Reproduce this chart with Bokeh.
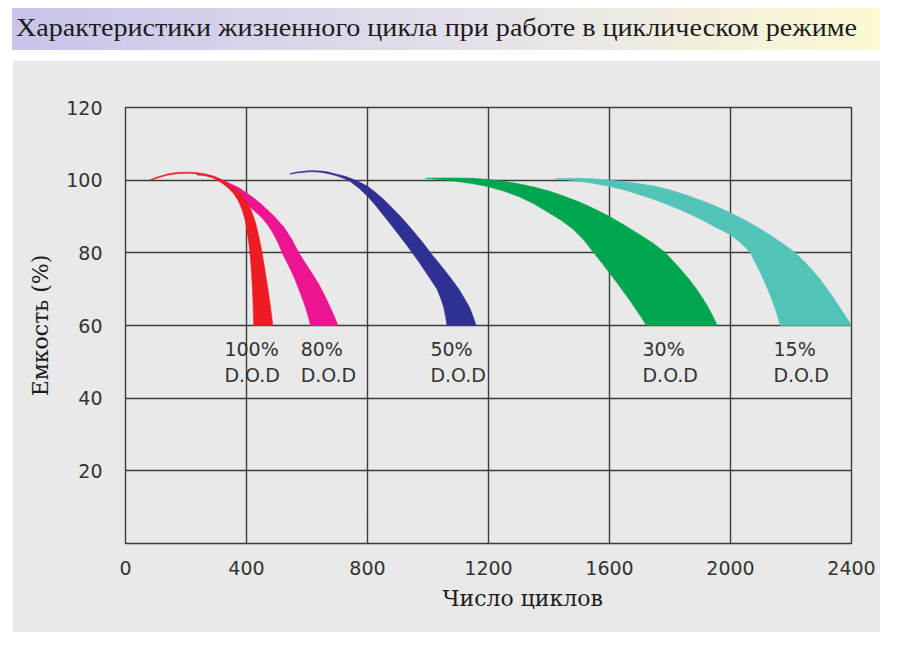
from bokeh.plotting import figure
from bokeh.models import ColumnDataSource, Div, FixedTicker, Title
from bokeh.layouts import column
from bokeh.embed import file_html
from bokeh.resources import INLINE
from bokeh.core.properties import value

title_text = "Характеристики жизненного цикла при работе в циклическом режиме"
x_title = "Число циклов"
y_title = "Емкость (%)"

cycle_ticks = [0, 400, 800, 1200, 1600, 2000, 2400]
capacity_ticks = [20, 40, 60, 80, 100, 120]

dod_labels = ["100%\nD.O.D", "80%\nD.O.D", "50%\nD.O.D", "30%\nD.O.D", "15%\nD.O.D"]
label_cycles = [327, 579, 1008, 1709, 2142]
label_capacity = [50, 50, 50, 50, 50]

# each band: upper (outer) edge and lower (inner) edge
red_upper_x = [83, 110, 140, 170, 200, 230, 260, 290, 320, 345, 368, 388, 405, 418, 430, 440,
               450, 460, 470, 479, 487]
red_upper_y = [100.2, 101.0, 101.7, 102.1, 102.2, 102.1, 101.8, 101.1, 100.0, 98.6, 97.3, 95.6,
               93.5, 91.2, 88.2, 84.8, 80.8, 75.8, 70.5, 65.3, 60.0]
red_lower_x = [83, 110, 140, 170, 200, 230, 260, 290, 315, 338, 356, 372, 385, 395, 402, 408,
               413, 417, 420, 422, 424]
red_lower_y = [100.0, 100.7, 101.4, 101.8, 101.9, 101.8, 101.4, 100.6, 99.4, 98.0, 96.5, 94.5,
               92.0, 89.2, 86.0, 82.5, 78.5, 74.0, 69.5, 65.0, 60.0]

pink_upper_x = [237, 265, 290, 318, 347, 375, 400, 425, 450, 475, 500, 525, 550, 573, 596, 618,
                640, 660, 675, 690, 702]
pink_upper_y = [101.7, 101.5, 101.1, 100.2, 99.0, 97.9, 96.5, 95.0, 93.3, 91.4, 89.3, 86.9, 83.7,
                80.0, 77.0, 74.2, 71.2, 68.0, 65.3, 62.6, 60.0]
pink_lower_x = [237, 265, 290, 312, 330, 348, 365, 382, 400, 418, 435, 452, 470, 487, 503, 518,
                533, 548, 561, 573, 585, 595, 604, 612]
pink_lower_y = [101.4, 101.2, 100.7, 99.8, 98.8, 97.6, 96.3, 94.9, 93.5, 92.1, 90.9, 89.5, 87.7,
                85.5, 83.0, 80.0, 77.5, 75.0, 72.5, 70.0, 67.3, 65.0, 62.5, 60.0]

blue_upper_x = [545, 565, 585, 605, 623, 645, 665, 685, 705, 728, 750, 775, 800, 826, 852, 880,
                909, 935, 960, 985, 1008, 1033, 1057, 1080, 1102, 1120, 1137, 1149, 1159]
blue_upper_y = [101.8, 102.2, 102.4, 102.6, 102.6, 102.5, 102.3, 101.9, 101.5, 101.0, 100.3, 99.4,
                98.3, 96.7, 94.8, 92.5, 90.0, 87.6, 85.1, 82.6, 80.0, 77.5, 75.0, 72.5, 70.0, 67.5,
                65.0, 62.5, 60.0]
blue_lower_x = [545, 565, 585, 605, 623, 645, 665, 685, 705, 725, 745, 772, 800, 827, 854, 879,
                903, 926, 948, 970, 990, 1010, 1030, 1042, 1052, 1058, 1063]
blue_lower_y = [101.6, 102.0, 102.1, 102.3, 102.3, 102.2, 101.9, 101.5, 101.0, 100.4, 99.5, 97.8,
                95.6, 93.0, 90.2, 87.6, 85.0, 82.5, 80.0, 77.5, 75.0, 72.5, 70.0, 67.5, 65.0,
                62.5, 60.0]

green_upper_x = [992, 1050, 1100, 1150, 1200, 1250, 1300, 1350, 1400, 1450, 1500, 1550, 1600,
                 1650, 1700, 1745, 1785, 1813, 1840, 1865, 1888, 1908, 1926, 1942, 1956]
green_upper_y = [100.5, 100.6, 100.6, 100.5, 100.2, 99.7, 99.0, 98.1, 97.0, 95.6, 94.0, 92.1,
                 90.0, 87.6, 85.0, 82.6, 80.0, 77.5, 75.0, 72.5, 70.0, 67.5, 65.0, 62.5, 60.0]
green_lower_x = [992, 1050, 1100, 1150, 1200, 1250, 1300, 1350, 1400, 1440, 1480, 1515, 1548,
                 1572, 1595, 1618, 1640, 1662, 1683, 1703, 1722]
green_lower_y = [100.5, 100.1, 99.6, 99.0, 98.2, 97.0, 95.5, 93.5, 91.0, 89.0, 86.5, 83.5, 80.0,
                 77.5, 75.0, 72.5, 70.0, 67.5, 65.0, 62.5, 60.0]

teal_upper_x = [1421, 1480, 1540, 1600, 1650, 1700, 1750, 1800, 1850, 1900, 1950, 2000, 2050,
                2100, 2140, 2180, 2215, 2245, 2273, 2298, 2320, 2341, 2361, 2381, 2400]
teal_upper_y = [100.4, 100.5, 100.4, 100.0, 99.6, 99.0, 98.3, 97.3, 96.0, 94.5, 92.9, 91.0, 88.9,
                86.5, 84.4, 82.1, 80.0, 77.5, 75.0, 72.5, 70.0, 67.5, 65.0, 62.5, 60.0]
teal_lower_x = [1421, 1480, 1540, 1600, 1650, 1700, 1750, 1800, 1850, 1900, 1950, 2000, 2030,
                2050, 2066, 2081, 2096, 2110, 2123, 2135, 2146, 2156, 2165]
teal_lower_y = [100.4, 99.9, 99.2, 98.3, 97.3, 96.0, 94.6, 93.0, 91.3, 89.3, 87.1, 85.0, 83.0,
                81.5, 80.0, 77.5, 75.0, 72.5, 70.0, 67.5, 65.0, 62.5, 60.0]

bands = [
    (pink_upper_x, pink_upper_y, pink_lower_x, pink_lower_y, "#ec1490"),
    (red_upper_x, red_upper_y, red_lower_x, red_lower_y, "#ed1c24"),
    (blue_upper_x, blue_upper_y, blue_lower_x, blue_lower_y, "#2e3192"),
    (green_upper_x, green_upper_y, green_lower_x, green_lower_y, "#00a64f"),
    (teal_upper_x, teal_upper_y, teal_lower_x, teal_lower_y, "#52c4b7"),
]

panel = "#e9e9e9"
grid = "#3c3c3c"

banner_html = ('<span style="display:inline-block;transform:scaleX(1.125);'
               'transform-origin:0 50%;">' + title_text + '</span>')
banner = Div(text=banner_html, width=868, height=42, margin=(8, 0, 0, 12),
             styles={"background": "linear-gradient(to right, #c8c4ea, #e5e2ea 55%, #fcfad2)",
                     "font-family": "Liberation Serif", "font-size": "25px", "color": "#1c1c1c",
                     "line-height": "40px", "padding-left": "4px", "white-space": "nowrap",
                     "box-sizing": "border-box", "overflow": "hidden"})

p = figure(frame_width=726, frame_height=436, x_range=(0, 2400), y_range=(0, 120),
           output_backend="svg", toolbar_location=None,
           min_border_left=113, min_border_right=29, min_border_top=47, min_border_bottom=89,
           background_fill_color=panel, border_fill_color=panel, margin=(10, 0, 0, 12))

p.outline_line_color = grid
p.outline_line_width = 1.4

p.xaxis.ticker = FixedTicker(ticks=cycle_ticks)
p.yaxis.ticker = FixedTicker(ticks=capacity_ticks)
p.xgrid.ticker = FixedTicker(ticks=cycle_ticks)
p.ygrid.ticker = FixedTicker(ticks=capacity_ticks)
for g in (p.xgrid, p.ygrid):
    g.grid_line_color = grid
    g.grid_line_width = 1.4

for ax in (p.xaxis, p.yaxis):
    ax.axis_line_color = None
    ax.major_tick_line_color = None
    ax.minor_tick_line_color = None
    ax.major_label_text_font = "DejaVu Sans"
    ax.major_label_text_font_size = "19px"
    ax.major_label_text_color = "#333333"

p.xaxis.major_label_standoff = 11
p.yaxis.major_label_standoff = 17

p.yaxis.axis_label = y_title
p.yaxis.axis_label_text_font = "DejaVu Serif"
p.yaxis.axis_label_text_font_size = "22px"
p.yaxis.axis_label_text_font_style = "normal"
p.yaxis.axis_label_text_color = "#1c1c1c"
p.yaxis.axis_label_standoff = 10

p.add_layout(Title(text=x_title, align="left", offset=317, standoff=12,
                   text_font="DejaVu Serif", text_font_size="22px",
                   text_font_style="normal", text_color="#1c1c1c"), "below")

for ux, uy, lx, ly, c in bands:
    p.patch(ux + lx[::-1], uy + ly[::-1], fill_color=c, line_color=c, line_width=0.6)

src = ColumnDataSource(dict(x=label_cycles, y=label_capacity, text=dod_labels))
p.text(x="x", y="y", text="text", source=src, text_font=value("DejaVu Sans"),
       text_font_size="19px", text_color="#333333", text_align="left",
       text_baseline="middle", text_line_height=1.2)

layout = column(banner, p)
open("out.html", "w").write(file_html(layout, INLINE))
